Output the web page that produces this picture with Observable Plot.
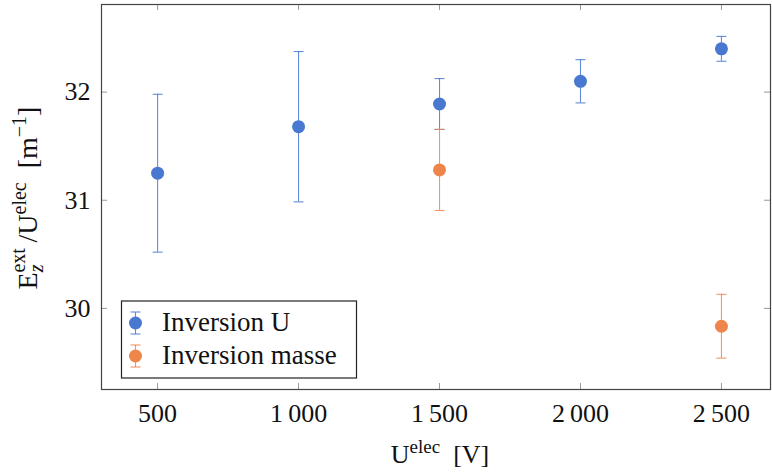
<!DOCTYPE html>
<html>
<head>
<meta charset="utf-8">
<script src="https://cdn.jsdelivr.net/npm/d3@7"></script>
<script src="https://cdn.jsdelivr.net/npm/@observablehq/plot@0.6"></script>
<style>
  html, body { margin: 0; padding: 0; background: #fff; }
  svg { display: block; }
  html body svg text, html body svg tspan { font-family: "Liberation Serif", serif !important; }
</style>
</head>
<body>
<div id="chart"></div>
<script>
// ---- data ----
const voltages = [500, 1000, 1500, 2000, 2500];
const inversionU = [31.25, 31.68, 31.89, 32.10, 32.40];
const inversionUErr = [0.73, 0.695, 0.235, 0.20, 0.115];
const voltagesMasse = [1500, 2500];
const inversionMasse = [31.28, 29.835];
const inversionMasseErr = [0.375, 0.295];
const xTicks = [500, 1000, 1500, 2000, 2500];
const yTicks = [30, 31, 32];
const seriesNames = ["Inversion U", "Inversion masse"];
const colors = ["#4878d0", "#ee854a"];

const serU = voltages.map((x, i) => ({x, y: inversionU[i], e: inversionUErr[i]}));
const serM = voltagesMasse.map((x, i) => ({x, y: inversionMasse[i], e: inversionMasseErr[i]}));

const W = 772, H = 472;
const mL = 101, mR = 2, mT = 4, mB = 83;
const pw = W - mL - mR, ph = H - mT - mB;
const FONT = "Liberation Serif";

const cap = {draw(ctx, size) { ctx.moveTo(-5, 0); ctx.lineTo(5, 0); }};
const fmt = d => d >= 1000 ? d3.format(",")(d).replace(",", "\u2009") : String(d);

function errMarks(data, color) {
  return [
    Plot.ruleX(data, {x: "x", y1: d => d.y - d.e, y2: d => d.y + d.e, stroke: color, strokeOpacity: 0.85, strokeWidth: 1.1}),
    Plot.dot(data, {x: "x", y: d => d.y - d.e, symbol: cap, stroke: color, strokeOpacity: 0.85, strokeWidth: 1.1, fill: "none"}),
    Plot.dot(data, {x: "x", y: d => d.y + d.e, symbol: cap, stroke: color, strokeOpacity: 0.85, strokeWidth: 1.1, fill: "none"}),
    Plot.dot(data, {x: "x", y: "y", r: 6.5, fill: color, stroke: "none"})
  ];
}

const svg = Plot.plot({
  width: W, height: H,
  marginLeft: mL, marginRight: mR, marginTop: mT, marginBottom: mB,
  style: {fontFamily: FONT, fontSize: "26px", color: "#111", background: "#fff"},
  x: {domain: [301, 2674], label: null},
  y: {domain: [29.25, 32.81], label: null},
  marks: [
    // inward ticks
    Plot.tickX(xTicks, {x: d => d, insetTop: ph - 6, stroke: "#999", strokeWidth: 1}),
    Plot.tickX(xTicks, {x: d => d, insetBottom: ph - 6, stroke: "#999", strokeWidth: 1}),
    Plot.tickY(yTicks, {y: d => d, insetRight: pw - 6, stroke: "#999", strokeWidth: 1}),
    Plot.tickY(yTicks, {y: d => d, insetLeft: pw - 6, stroke: "#999", strokeWidth: 1}),
    Plot.axisX({ticks: xTicks, tickSize: 0, tickPadding: 14, tickFormat: fmt, label: null, fontSize: 26}),
    Plot.axisY({ticks: yTicks, tickSize: 0, tickPadding: 11, tickFormat: d => String(d), label: null, fontSize: 26}),
    ...errMarks(serU, colors[0]),
    ...errMarks(serM, colors[1]),
    Plot.frame({stroke: "#444", strokeWidth: 1.2})
  ]
});

document.getElementById("chart").appendChild(svg);

const s = d3.select(svg);

// X axis label
const xl = s.append("text")
  .attr("x", 440).attr("y", 463)
  .attr("text-anchor", "middle")
  .attr("font-size", 26).attr("fill", "#111");
xl.append("tspan").text("U");
xl.append("tspan").attr("font-size", 19).attr("dy", -10).text("elec");
xl.append("tspan").attr("dy", 10).text("\u2002[V]");

// Y axis label
const yl = s.append("text")
  .attr("transform", "translate(37,198) rotate(-90)")
  .attr("text-anchor", "middle")
  .attr("font-size", 28).attr("fill", "#111");
yl.append("tspan").text("E");
yl.append("tspan").attr("font-size", 20).attr("font-style", "italic").attr("dy", 6).text("z");
yl.append("tspan").attr("font-size", 20).attr("dx", -8).attr("dy", -18).text("ext");
yl.append("tspan").attr("dy", 12).text("\u2009/U");
yl.append("tspan").attr("font-size", 20).attr("dy", -11).text("elec");
yl.append("tspan").attr("dy", 11).text("\u2002[m");
yl.append("tspan").attr("font-size", 20).attr("dy", -11).text("\u22121");
yl.append("tspan").attr("dy", 11).text("]");

// Legend
const lg = s.append("g");
lg.append("rect").attr("x", 121.5).attr("y", 301).attr("width", 235).attr("height", 77)
  .attr("fill", "#fff").attr("stroke", "#222").attr("stroke-width", 1.2);
const rows = [323, 356];
seriesNames.forEach((name, i) => {
  const cy = rows[i], cx = 135.5, c = colors[i];
  const g = lg.append("g");
  g.append("line").attr("x1", cx).attr("x2", cx).attr("y1", cy - 11).attr("y2", cy + 11)
    .attr("stroke", c).attr("stroke-opacity", 0.85).attr("stroke-width", 1.1);
  [-11, 11].forEach(o => g.append("line").attr("x1", cx - 5).attr("x2", cx + 5)
    .attr("y1", cy + o).attr("y2", cy + o).attr("stroke", c).attr("stroke-opacity", 0.85).attr("stroke-width", 1.1));
  g.append("circle").attr("cx", cx).attr("cy", cy).attr("r", 6.5).attr("fill", c);
  g.append("text").attr("x", 162).attr("y", cy + 8).attr("text-anchor", "start")
    .attr("font-size", 27).attr("fill", "#111").text(name);
});

// force the serif face
s.attr("font-family", FONT);
s.selectAll("text, tspan").each(function() {
  this.setAttribute("font-family", FONT);
  this.style.setProperty("font-family", '"Liberation Serif", serif', "important");
});
</script>
</body>
</html>
